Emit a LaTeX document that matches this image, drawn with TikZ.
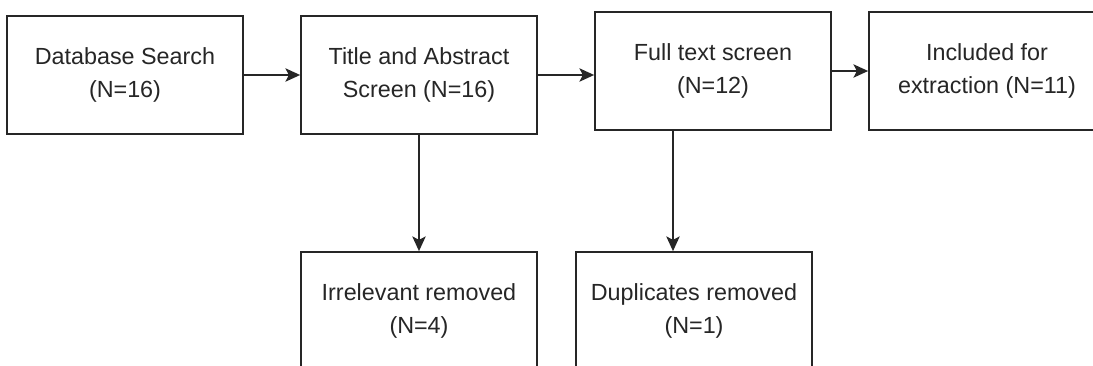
\documentclass[tikz,border=0pt]{standalone}
\usepackage{fontspec}
\setmainfont{Liberation Sans}
\usetikzlibrary{arrows.meta}

\begin{document}
\begin{tikzpicture}[x=0.75pt, y=-0.75pt,
    stagebox/.style={draw=black!85, line width=1.3pt, fill=white, text=black!85,
        minimum width=177pt, minimum height=88.5pt, align=center,
        font=\fontsize{17.5}{24.5}\selectfont},
    flow/.style={line width=1.3pt, draw=black!85, -{Stealth[length=11pt, width=10pt, inset=2.5pt]}}]
            \clip (0,0) rectangle (1093,365);
            \fill[white] (0,0) rectangle (1093,365);
            % top row
            \node[stagebox] (search) at (125,75) {Database Search\\(N=16)};
            \node[stagebox] (title) at (419,75) {Title and Abstract\\Screen (N=16)};
            \node[stagebox] (fulltext) at (713,71) {Full text screen\\(N=12)};
            \node[stagebox] (included) at (987,71) {Included for\\extraction (N=11)};
            % removed
            \node[stagebox] (irrelevant) at (419,311) {Irrelevant removed\\(N=4)};
            \node[stagebox] (duplicates) at (694,311) {Duplicates removed\\(N=1)};
            \coordinate (dropx) at (673,0);
            \draw[flow] (search) -- (title);
            \draw[flow] (title.east) -- (title.east -| fulltext.west);
            \draw[flow] (fulltext) -- (included);
            \draw[flow] (title.south) -- (irrelevant.north);
            \draw[flow] (fulltext.south -| dropx) -- (duplicates.north -| dropx);
            %\draw[flow] (fulltext.south) -- (duplicates.north);
        \end{tikzpicture}
\end{document}
